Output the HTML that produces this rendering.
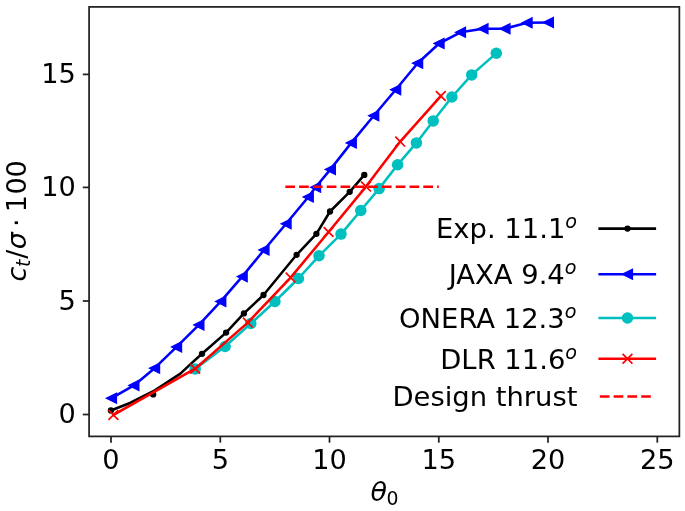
<!DOCTYPE html>
<html lang="en">
<head>
<meta charset="utf-8">
<title>Thrust coefficient vs collective pitch</title>
<style>
html,body{margin:0;padding:0;background:#ffffff;}
body{width:685px;height:511px;overflow:hidden;}
svg{display:block;filter:blur(0.55px);}
</style>
</head>
<body>
<svg width="685" height="511" viewBox="0 0 685 511" font-family='"DejaVu Sans", "Liberation Sans", sans-serif' font-size="27.2" fill="#000">
<rect x="0" y="0" width="685" height="511" fill="#ffffff"/>
<defs><clipPath id="ax"><rect x="89.1" y="6.9" width="590.25" height="429.50"/></clipPath></defs>
<g clip-path="url(#ax)">
<polyline points="110.90,410.50 130.00,403.00 153.30,391.20 180.40,373.60 190.00,364.60 202.00,353.80 226.10,332.60 243.90,313.40 263.50,295.00 296.60,254.80 316.40,233.80 330.00,211.50 349.70,191.80 364.30,174.90" fill="none" stroke="#000000" stroke-width="2.55" stroke-linejoin="round" stroke-linecap="square" />
<circle cx="110.90" cy="410.50" r="3.15" fill="#000000"/>
<circle cx="153.20" cy="394.40" r="3.15" fill="#000000"/>
<circle cx="202.00" cy="353.80" r="3.15" fill="#000000"/>
<circle cx="226.10" cy="332.60" r="3.15" fill="#000000"/>
<circle cx="243.90" cy="313.40" r="3.15" fill="#000000"/>
<circle cx="263.50" cy="295.00" r="3.15" fill="#000000"/>
<circle cx="296.60" cy="254.80" r="3.15" fill="#000000"/>
<circle cx="316.40" cy="233.80" r="3.15" fill="#000000"/>
<circle cx="330.00" cy="211.50" r="3.15" fill="#000000"/>
<circle cx="349.70" cy="191.80" r="3.15" fill="#000000"/>
<circle cx="364.30" cy="174.90" r="3.15" fill="#000000"/>
<polyline points="111.50,398.20 133.90,385.40 154.60,368.20 176.60,346.90 198.90,324.90 220.80,301.40 242.20,276.60 264.00,250.00 286.10,223.80 308.30,197.00 315.60,187.30 330.40,169.40 351.30,142.90 373.75,115.75 395.70,89.70 417.65,63.20 439.10,43.50 460.50,32.30 483.00,28.80 505.00,28.70 527.10,22.80 548.40,22.50" fill="none" stroke="#0000ff" stroke-width="2.55" stroke-linejoin="round" stroke-linecap="square" />
<polygon points="106.60,398.20 116.40,393.30 116.40,403.10" fill="#0000ff" stroke="#0000ff" stroke-width="1.4" stroke-linejoin="miter"/>
<polygon points="129.00,385.40 138.80,380.50 138.80,390.30" fill="#0000ff" stroke="#0000ff" stroke-width="1.4" stroke-linejoin="miter"/>
<polygon points="149.70,368.20 159.50,363.30 159.50,373.10" fill="#0000ff" stroke="#0000ff" stroke-width="1.4" stroke-linejoin="miter"/>
<polygon points="171.70,346.90 181.50,342.00 181.50,351.80" fill="#0000ff" stroke="#0000ff" stroke-width="1.4" stroke-linejoin="miter"/>
<polygon points="194.00,324.90 203.80,320.00 203.80,329.80" fill="#0000ff" stroke="#0000ff" stroke-width="1.4" stroke-linejoin="miter"/>
<polygon points="215.90,301.40 225.70,296.50 225.70,306.30" fill="#0000ff" stroke="#0000ff" stroke-width="1.4" stroke-linejoin="miter"/>
<polygon points="237.30,276.60 247.10,271.70 247.10,281.50" fill="#0000ff" stroke="#0000ff" stroke-width="1.4" stroke-linejoin="miter"/>
<polygon points="259.10,250.00 268.90,245.10 268.90,254.90" fill="#0000ff" stroke="#0000ff" stroke-width="1.4" stroke-linejoin="miter"/>
<polygon points="281.20,223.80 291.00,218.90 291.00,228.70" fill="#0000ff" stroke="#0000ff" stroke-width="1.4" stroke-linejoin="miter"/>
<polygon points="303.40,197.00 313.20,192.10 313.20,201.90" fill="#0000ff" stroke="#0000ff" stroke-width="1.4" stroke-linejoin="miter"/>
<polygon points="310.70,187.30 320.50,182.40 320.50,192.20" fill="#0000ff" stroke="#0000ff" stroke-width="1.4" stroke-linejoin="miter"/>
<polygon points="325.50,169.40 335.30,164.50 335.30,174.30" fill="#0000ff" stroke="#0000ff" stroke-width="1.4" stroke-linejoin="miter"/>
<polygon points="346.40,142.90 356.20,138.00 356.20,147.80" fill="#0000ff" stroke="#0000ff" stroke-width="1.4" stroke-linejoin="miter"/>
<polygon points="368.85,115.75 378.65,110.85 378.65,120.65" fill="#0000ff" stroke="#0000ff" stroke-width="1.4" stroke-linejoin="miter"/>
<polygon points="390.80,89.70 400.60,84.80 400.60,94.60" fill="#0000ff" stroke="#0000ff" stroke-width="1.4" stroke-linejoin="miter"/>
<polygon points="412.75,63.20 422.55,58.30 422.55,68.10" fill="#0000ff" stroke="#0000ff" stroke-width="1.4" stroke-linejoin="miter"/>
<polygon points="434.20,43.50 444.00,38.60 444.00,48.40" fill="#0000ff" stroke="#0000ff" stroke-width="1.4" stroke-linejoin="miter"/>
<polygon points="455.60,32.30 465.40,27.40 465.40,37.20" fill="#0000ff" stroke="#0000ff" stroke-width="1.4" stroke-linejoin="miter"/>
<polygon points="478.10,28.80 487.90,23.90 487.90,33.70" fill="#0000ff" stroke="#0000ff" stroke-width="1.4" stroke-linejoin="miter"/>
<polygon points="500.10,28.70 509.90,23.80 509.90,33.60" fill="#0000ff" stroke="#0000ff" stroke-width="1.4" stroke-linejoin="miter"/>
<polygon points="522.20,22.80 532.00,17.90 532.00,27.70" fill="#0000ff" stroke="#0000ff" stroke-width="1.4" stroke-linejoin="miter"/>
<polygon points="543.50,22.50 553.30,17.60 553.30,27.40" fill="#0000ff" stroke="#0000ff" stroke-width="1.4" stroke-linejoin="miter"/>
<polyline points="195.20,368.90 225.10,346.50 250.80,323.50 274.90,301.50 298.40,278.50 319.00,255.80 341.00,234.10 360.80,210.50 379.10,188.60 397.60,164.80 416.40,142.90 433.20,120.90 451.90,97.00 471.70,74.90 496.30,53.20" fill="none" stroke="#00bfbf" stroke-width="2.55" stroke-linejoin="round" stroke-linecap="square" />
<circle cx="195.20" cy="368.90" r="5.75" fill="#00bfbf"/>
<circle cx="225.10" cy="346.50" r="5.75" fill="#00bfbf"/>
<circle cx="250.80" cy="323.50" r="5.75" fill="#00bfbf"/>
<circle cx="274.90" cy="301.50" r="5.75" fill="#00bfbf"/>
<circle cx="298.40" cy="278.50" r="5.75" fill="#00bfbf"/>
<circle cx="319.00" cy="255.80" r="5.75" fill="#00bfbf"/>
<circle cx="341.00" cy="234.10" r="5.75" fill="#00bfbf"/>
<circle cx="360.80" cy="210.50" r="5.75" fill="#00bfbf"/>
<circle cx="379.10" cy="188.60" r="5.75" fill="#00bfbf"/>
<circle cx="397.60" cy="164.80" r="5.75" fill="#00bfbf"/>
<circle cx="416.40" cy="142.90" r="5.75" fill="#00bfbf"/>
<circle cx="433.20" cy="120.90" r="5.75" fill="#00bfbf"/>
<circle cx="451.90" cy="97.00" r="5.75" fill="#00bfbf"/>
<circle cx="471.70" cy="74.90" r="5.75" fill="#00bfbf"/>
<circle cx="496.30" cy="53.20" r="5.75" fill="#00bfbf"/>
<polyline points="113.40,414.90 195.20,368.70 247.80,322.60 290.60,277.60 328.60,232.00 366.00,186.60 400.20,141.60 440.80,96.00" fill="none" stroke="#ff0000" stroke-width="2.55" stroke-linejoin="round" stroke-linecap="square" />
<path d="M108.50,410.00L118.30,419.80M108.50,419.80L118.30,410.00" stroke="#ff0000" stroke-width="1.7" fill="none" stroke-linecap="butt"/>
<path d="M190.30,363.80L200.10,373.60M190.30,373.60L200.10,363.80" stroke="#ff0000" stroke-width="1.7" fill="none" stroke-linecap="butt"/>
<path d="M242.90,317.70L252.70,327.50M242.90,327.50L252.70,317.70" stroke="#ff0000" stroke-width="1.7" fill="none" stroke-linecap="butt"/>
<path d="M285.70,272.70L295.50,282.50M285.70,282.50L295.50,272.70" stroke="#ff0000" stroke-width="1.7" fill="none" stroke-linecap="butt"/>
<path d="M323.70,227.10L333.50,236.90M323.70,236.90L333.50,227.10" stroke="#ff0000" stroke-width="1.7" fill="none" stroke-linecap="butt"/>
<path d="M361.10,181.70L370.90,191.50M361.10,191.50L370.90,181.70" stroke="#ff0000" stroke-width="1.7" fill="none" stroke-linecap="butt"/>
<path d="M395.30,136.70L405.10,146.50M395.30,146.50L405.10,136.70" stroke="#ff0000" stroke-width="1.7" fill="none" stroke-linecap="butt"/>
<path d="M435.90,91.10L445.70,100.90M435.90,100.90L445.70,91.10" stroke="#ff0000" stroke-width="1.7" fill="none" stroke-linecap="butt"/>
<polyline points="285.30,186.80 438.80,186.80" fill="none" stroke="#ff0000" stroke-width="2.55" stroke-dasharray="9.7 4.1"/>
</g>
<line x1="111.0" y1="436.4" x2="111.0" y2="442.7" stroke="#222222" stroke-width="1.75"/>
<line x1="220.3" y1="436.4" x2="220.3" y2="442.7" stroke="#222222" stroke-width="1.75"/>
<line x1="329.5" y1="436.4" x2="329.5" y2="442.7" stroke="#222222" stroke-width="1.75"/>
<line x1="438.8" y1="436.4" x2="438.8" y2="442.7" stroke="#222222" stroke-width="1.75"/>
<line x1="548.0" y1="436.4" x2="548.0" y2="442.7" stroke="#222222" stroke-width="1.75"/>
<line x1="657.3" y1="436.4" x2="657.3" y2="442.7" stroke="#222222" stroke-width="1.75"/>
<line x1="89.1" y1="414.5" x2="82.8" y2="414.5" stroke="#222222" stroke-width="1.75"/>
<line x1="89.1" y1="301.0" x2="82.8" y2="301.0" stroke="#222222" stroke-width="1.75"/>
<line x1="89.1" y1="187.4" x2="82.8" y2="187.4" stroke="#222222" stroke-width="1.75"/>
<line x1="89.1" y1="74.4" x2="82.8" y2="74.4" stroke="#222222" stroke-width="1.75"/>
<rect x="89.1" y="6.9" width="590.25" height="429.5" fill="none" stroke="#222222" stroke-width="1.75" stroke-linejoin="miter"/>
<text x="111.0" y="468.7" text-anchor="middle">0</text>
<text x="220.3" y="468.7" text-anchor="middle">5</text>
<text x="329.5" y="468.7" text-anchor="middle">10</text>
<text x="438.8" y="468.7" text-anchor="middle">15</text>
<text x="548.0" y="468.7" text-anchor="middle">20</text>
<text x="657.3" y="468.7" text-anchor="middle">25</text>
<text x="75.8" y="423.3" text-anchor="end">0</text>
<text x="75.8" y="309.8" text-anchor="end">5</text>
<text x="75.8" y="196.2" text-anchor="end">10</text>
<text x="75.8" y="83.2" text-anchor="end">15</text>
<text font-size="27.0"><tspan x="370.53" y="501.2" font-style="italic">θ</tspan><tspan x="386.5" y="504.5" font-size="18.9">0</tspan></text>
<text transform="translate(26.1 500) rotate(-90)"><tspan x="218.59" y="0" font-size="27.0" font-style="italic">c</tspan><tspan x="233.00" y="3.8" font-size="18.9" font-style="italic">t</tspan><tspan x="241.15" y="0" font-size="27.0">/</tspan><tspan x="250.87" y="0" font-size="27.0" font-style="italic">σ</tspan><tspan x="272.92" y="0" font-size="27.0">·</tspan><tspan x="287.73" y="0" font-size="27.0">1</tspan><tspan x="305.42" y="0" font-size="27.0">0</tspan><tspan x="322.42" y="0" font-size="27.0">0</tspan></text>
<line x1="598.4" y1="228.6" x2="656.1" y2="228.6" stroke="#000000" stroke-width="2.55"/>
<circle cx="627.50" cy="228.60" r="3.15" fill="#000000"/>
<text x="577.1" y="238.3" text-anchor="end" font-size="27.4">Exp. 11.1<tspan font-style="italic" font-size="19.18" dy="-10">o</tspan></text>
<line x1="598.4" y1="274.2" x2="656.1" y2="274.2" stroke="#0000ff" stroke-width="2.55"/>
<polygon points="622.60,274.20 632.40,269.30 632.40,279.10" fill="#0000ff" stroke="#0000ff" stroke-width="1.4" stroke-linejoin="miter"/>
<text x="576.5" y="283.9" text-anchor="end" font-size="27.4">JAXA 9.4<tspan font-style="italic" font-size="19.18" dy="-10">o</tspan></text>
<line x1="598.4" y1="318.0" x2="656.1" y2="318.0" stroke="#00bfbf" stroke-width="2.55"/>
<circle cx="627.50" cy="318.00" r="5.75" fill="#00bfbf"/>
<text x="576.5" y="327.7" text-anchor="end" font-size="27.4">ONERA 12.3<tspan font-style="italic" font-size="19.18" dy="-10">o</tspan></text>
<line x1="598.4" y1="358.8" x2="656.1" y2="358.8" stroke="#ff0000" stroke-width="2.55"/>
<path d="M622.60,353.90L632.40,363.70M622.60,363.70L632.40,353.90" stroke="#ff0000" stroke-width="1.7" fill="none" stroke-linecap="butt"/>
<text x="577.1" y="368.5" text-anchor="end" font-size="27.4">DLR 11.6<tspan font-style="italic" font-size="19.18" dy="-10">o</tspan></text>
<line x1="599.8" y1="396.5" x2="650.8" y2="396.5" stroke="#ff0000" stroke-width="2.55" stroke-dasharray="9.7 4.1"/>
<text x="577.5" y="406.2" text-anchor="end" font-size="27.4">Design thrust</text>
</svg>
</body>
</html>
